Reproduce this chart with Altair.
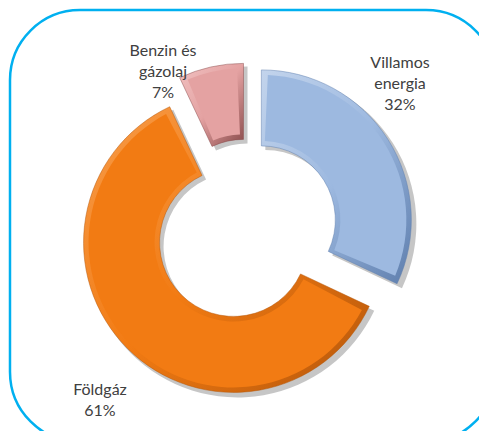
import math
import altair as alt
import pandas as pd

# ---- data ----
categories = ["Villamos energia", "Földgáz", "Benzin és gázolaj"]
values = [32, 61, 7]
label_lines = ["Villamos\nenergia", "Földgáz", "Benzin és\ngázolaj"]

# ---- style ----
colors = ["#9DB9E0", "#F27B13", "#E4A2A2"]
light = ["#C3D4EC", "#F79C4A", "#F0C0C0"]
dark = ["#5E7EAD", "#B4560A", "#8A4B4B"]
explode = [17, 19, 16]
label_pos = [(392, 55), (92, 382), (155, 43)]
CX, CY = 239, 221
R_OUT, R_IN = 150, 74
RIM = 5
W, H = 471, 423

starts, ends = [], []
acc = 0
for v in values:
    starts.append(acc)
    acc += v
    ends.append(acc)
total = acc
inset = RIM / ((R_OUT + R_IN) / 2) / (2 * math.pi) * total

df = pd.DataFrame({
    "category": categories,
    "value": values,
    "start": starts,
    "end": ends,
    "fstart": [s + inset for s in starts],
    "fend": [e - inset for e in ends],
    "label": [f"{l}\n{v}%" for l, v in zip(label_lines, values)],
})

ts = alt.Scale(domain=[0, total], range=[0, 2 * math.pi])

shadows, rims, faces, texts = [], [], [], []
for i, cat in enumerate(categories):
    mid = (starts[i] + ends[i]) / 2 / total * 2 * math.pi
    x = CX + explode[i] * math.sin(mid)
    y = CY - explode[i] * math.cos(mid)
    base = alt.Chart(df).transform_filter(alt.datum.category == cat)
    enc = dict(theta=alt.Theta("start:Q", scale=ts), theta2=alt.Theta2("end:Q"))
    shadows.append(
        base.mark_arc(x=x + 4, y=y + 4, radius=R_OUT + 1, innerRadius=R_IN,
                      color="#707070", opacity=0.4).encode(**enc)
    )
    grad = alt.LinearGradient(
        gradient="linear", x1=0, y1=0, x2=1, y2=1,
        stops=[alt.GradientStop(offset=0, color=light[i]),
               alt.GradientStop(offset=0.5, color=colors[i]),
               alt.GradientStop(offset=1, color=dark[i])],
    )
    rims.append(
        base.mark_arc(x=x, y=y, radius=R_OUT, innerRadius=R_IN, color=grad,
                      stroke=dark[i], strokeWidth=0.8, strokeOpacity=0.6).encode(**enc)
    )
    faces.append(
        base.mark_arc(x=x, y=y, radius=R_OUT - RIM, innerRadius=R_IN + RIM,
                      color=colors[i]).encode(
            theta=alt.Theta("fstart:Q", scale=ts), theta2=alt.Theta2("fend:Q"))
    )
    lx, ly = label_pos[i]
    texts.append(
        base.mark_text(x=lx, y=ly, lineBreak="\n", font="Lato", fontSize=16,
                       lineHeight=21, color="#404040", align="center",
                       baseline="middle").encode(text="label:N")
    )

frame = alt.Chart(pd.DataFrame({"k": [0]})).mark_rect(
    fill="transparent", stroke="#00B0F0", strokeWidth=2.5, cornerRadius=70
).encode(x=alt.value(2), x2=alt.value(488), y=alt.value(2), y2=alt.value(434))

chart = alt.layer(frame, *shadows, *rims, *faces, *texts).properties(
    width=W, height=H, padding=0,
    autosize=alt.AutoSizeParams(type="none"),
).configure_view(stroke=None)

chart.save("out.html", embed_options={"renderer": "svg", "actions": False})
